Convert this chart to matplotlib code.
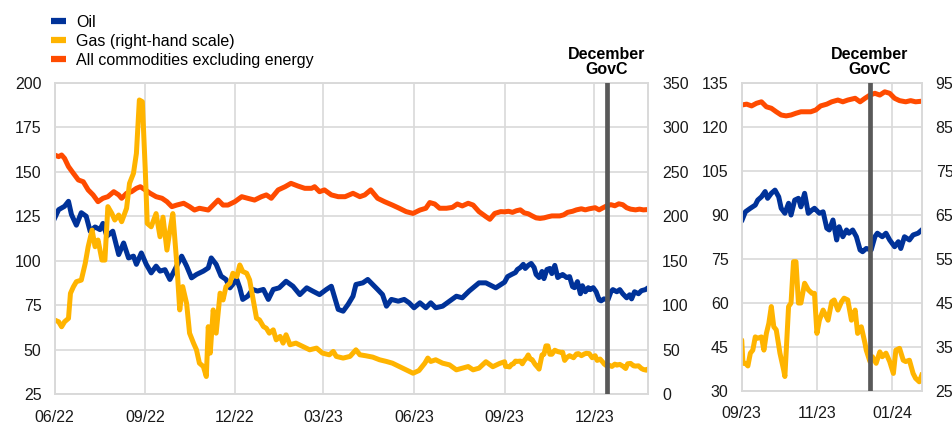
import matplotlib
matplotlib.use("Agg")
import matplotlib.pyplot as plt
import matplotlib.dates as mdates
import matplotlib.transforms as mtransforms
from matplotlib.lines import Line2D
import pandas as pd

plt.rcParams["font.family"] = ["Liberation Sans", "DejaVu Sans"]
plt.rcParams["font.size"] = 11.5

# ---- data (days counted from 1 June 2022) ----
start = pd.Timestamp("2022-06-01")
zoom_start = pd.Timestamp("2023-09-01")
end = pd.Timestamp("2024-01-25")
govc_date = pd.Timestamp("2023-12-14")

oil_day = [0, 4, 10, 14, 17, 22, 27, 32, 36, 41, 46, 49, 53, 59, 65, 70, 75, 80, 83, 88,
           93, 98, 103, 107, 112, 117, 122, 129, 134, 139, 144, 151, 156, 159, 164, 169, 174, 178, 185, 188,
           191, 196, 201, 206, 212, 217, 222, 228, 235, 242, 249, 256, 262, 269, 276, 281, 284, 288, 293, 298,
           303, 306, 313, 318, 323, 328, 333, 337, 342, 349, 355, 360, 365, 371, 377, 382, 387, 394, 401, 408,
           414, 421, 431, 438, 448,
           457, 460, 464, 468, 470, 473, 476, 478, 481, 484, 487, 489, 492, 495, 497, 500, 503, 505, 508, 511,
           514, 516, 520, 523, 526, 528, 531, 534, 536, 539, 542, 544, 547, 550, 553, 555, 558, 562, 565, 567,
           571, 574, 577, 581, 584, 586, 589, 593, 596, 600, 603]
oil_val = [124, 128.7, 130.6, 133.4, 126, 120, 127, 125, 116.6, 119, 117.5, 121, 113.8, 116.6, 103.5, 110, 101.6, 102.6, 98, 104.4,
           98, 93.2, 97, 94.2, 95, 89.5, 95, 102.6, 97, 90.4, 92.3, 94.2, 96, 101.6, 98, 91.4, 89.5, 84.8, 89.5, 84.8,
           78.3, 80.1, 83.9, 83, 83.9, 78.3, 83.9, 84.8, 88.5, 85.7, 81, 84.8, 83, 81, 83.9, 85.7, 80.1, 72.7, 71.7, 75.5,
           80.1, 86.7, 87.6, 89.5, 86.7, 83.9, 81, 74.5, 78.3, 77.3, 78.3, 76.4, 73.6, 76.4, 73.6, 76.4, 73.6, 74.5, 77.3, 80.1,
           79.2, 83, 87.6, 87.6, 84.8,
           88, 91.1, 92.3, 93.4, 95.1, 96.2, 98, 95.7, 97.4, 98.5, 96.2, 92.3, 90.6, 94, 90, 95.1, 95.7, 92.8, 97.4, 90.6,
           91.7, 92.3, 90.6, 91.1, 85.5, 84.9, 88.3, 81.5, 86, 82.6, 84.9, 83.8, 84.9, 82.6, 78.1, 77.5, 78.6, 78.1, 82.6, 83.8,
           82.6, 83.8, 81.5, 79.2, 80.9, 78.6, 82.6, 81.5, 83.2, 83.8, 84.9]

gas_day = [0, 4, 7, 10, 14, 16, 19, 22, 27, 31, 34, 38, 41, 44, 48, 51, 54, 58, 61, 65,
           68, 73, 76, 80, 83, 86, 89, 92, 94, 98, 103, 107, 110, 114, 117, 120, 124, 127, 130, 134,
           137, 141, 144, 147, 151, 154, 156, 158, 161, 164, 168, 171, 174, 178, 181, 185, 188, 191, 195, 198,
           201, 205, 208, 212, 215, 218, 222, 225, 229, 232, 235, 239, 245, 252, 259, 266, 272, 279, 283, 286,
           293, 300, 306, 310, 316, 323, 330, 337, 343, 350, 357, 364, 370, 376, 379, 382, 387, 394, 401, 408,
           414, 420, 425, 431, 438, 445, 452,
           457, 458, 460, 462, 464, 466, 468, 470, 473, 475, 477, 479, 481, 483, 485, 488, 491, 492, 493, 495,
           497, 499, 501, 503, 505, 508, 511, 514, 516, 518, 520, 523, 527, 530, 532, 535, 538, 540, 543, 546,
           549, 551, 554, 557, 558, 561, 563, 566, 569, 571, 574, 577, 580, 582, 585, 588, 590, 593, 596, 598,
           601, 603]
gas_val = [83.4, 81.5, 75.9, 81.5, 85.3, 113.4, 120.8, 126.5, 128.3, 147, 165.8, 184.5, 165.8, 173.3, 150.8, 150.8, 210.8, 203.3, 195.8, 201.4,
           193.9, 208.9, 237, 248.2, 270.7, 330.6, 328.7, 252, 192, 188.2, 203, 177, 199, 162, 184, 203, 147, 94.8, 121, 102,
           68.7, 57.5, 50, 35, 31.2, 20, 76, 46.3, 94.8, 68.7, 113.6, 106, 121, 124.8, 136, 132.2, 145.3, 138, 136, 128.5,
           109.8, 85.5, 83.6, 76.1, 74.2, 68.7, 72.4, 61.2, 65, 57.5, 66.9, 55.7, 57.5, 53.8, 50, 51.9, 46.3, 44.4, 48.2, 42.6,
           40.7, 42.6, 50, 44.4, 43.3, 41.8, 38.8, 36.9, 35, 31.2, 27.5, 23.7, 26.7, 35, 40.7, 36.9, 38.8, 35, 33.1, 27.5,
           29.4, 31.2, 27.5, 29.4, 36.6, 31, 34.7,
           36.6, 31.3, 31.3, 30.7, 33.6, 34.3, 37.3, 37, 37.3, 34.3, 38.1, 40.4, 44.2, 39.6, 38.9, 33.6, 29.8, 28.3, 33.6, 44.2,
           45, 54.4, 54.4, 45, 45, 49.5, 48, 47.2, 47.2, 38.1, 41.1, 43.4, 41.1, 45.3, 45.7, 43.4, 45.3, 46.1, 45.7, 41.1,
           43.4, 38.1, 39.6, 35.8, 34.3, 31.7, 32.8, 31.3, 33.9, 32.8, 33.6, 31.7, 29, 34.3, 34.7, 32, 31.7, 32, 29, 27.9,
           27.1, 28.6]

nonen_day = [0, 4, 7, 10, 14, 19, 24, 29, 34, 39, 44, 49, 54, 60, 65, 68, 73, 78, 83, 87,
             92, 97, 103, 109, 114, 119, 124, 131, 137, 142, 147, 156, 161, 166, 171, 176, 183, 190, 196, 203,
             210, 215, 220, 227, 234, 240, 247, 254, 261, 264, 269, 274, 281, 288, 295, 303, 310, 315, 321, 328,
             335, 343, 350, 357, 364, 371, 377, 381, 386, 391, 398, 404, 409, 414, 420, 425, 431, 438, 442, 447,
             453, 457, 461, 465, 469, 473, 477, 481, 485, 489, 493, 497, 501, 505, 509, 513, 517, 521, 526, 530,
             535, 539, 543, 549, 553, 557, 561, 565, 569, 573, 577, 581, 585, 590, 594, 598, 603]
nonen_val = [159.4, 158.5, 159.4, 157.5, 152.9, 149.1, 145.4, 144.4, 139.8, 137, 133.2, 135.1, 136, 138.8, 137, 135.1, 137.9, 138.8, 140.7, 141.6,
             139.8, 137.9, 136, 135.1, 133.2, 130.4, 131.3, 132.3, 130.4, 128.5, 129.5, 128.5, 131.3, 134.1, 131.3, 131.3, 133.2, 136, 135.1, 134.1,
             136, 137, 135.1, 139.8, 141.6, 143.5, 142, 140.7, 140.7, 141.6, 138.8, 139.8, 137, 136, 136, 137.9, 136, 137, 139.8, 135.1,
             133.2, 131.3, 129.5, 127.6, 126.6, 128.5, 129.5, 132.7, 131.9, 129.5, 129.5, 130, 131.9, 130.8, 132.3, 131.3, 127.6, 124.8, 123.3, 126.6,
             127.6, 127.5, 127.8, 127.2, 128.1, 128.6, 126.9, 126.4, 125.2, 124.1, 123.8, 124.1, 124.7, 125.2, 125.2, 125.2, 125.8, 127.2, 127.8, 128.6,
             129.2, 128.6, 129.2, 129.8, 128.6, 129.8, 130.9, 131.5, 130.9, 132, 131.5, 129.8, 129, 128.6, 129, 128.6, 128.8]

labels = ["Oil", "Gas (right-hand scale)", "All commodities excluding energy"]
colors = {"oil": "#003299", "gas": "#ffb400", "nonen": "#ff4b00"}
grid_col = "#d9d9d9"


def to_dates(days):
    return start + pd.to_timedelta(days, unit="D")


oil_x = to_dates(oil_day)
gas_x = to_dates(gas_day)
nonen_x = to_dates(nonen_day)

fig = plt.figure(figsize=(9.53, 4.28), dpi=100)
ax1 = fig.add_axes([0.0574, 0.0787, 0.6229, 0.728])
ax1r = ax1.twinx()
ax2 = fig.add_axes([0.7783, 0.0864, 0.1889, 0.7196])
ax2r = ax2.twinx()

panels = [
    (ax1, ax1r, (start, end), ["2022-06-01", "2022-09-01", "2022-12-01", "2023-03-01",
                               "2023-06-01", "2023-09-01", "2023-12-01"],
     (25, 200), range(25, 201, 25), (0, 350), range(0, 351, 50)),
    (ax2, ax2r, (zoom_start, end), ["2023-09-01", "2023-11-01", "2024-01-01"],
     (30, 135), range(30, 136, 15), (25, 95), range(25, 96, 10)),
]

for ax, axr, xlim, xticks, ylim, yticks, rlim, rticks in panels:
    ax.plot(oil_x, oil_val, color=colors["oil"], lw=3.6, solid_joinstyle="round")
    ax.plot(nonen_x, nonen_val, color=colors["nonen"], lw=3.6, solid_joinstyle="round")
    axr.plot(gas_x, gas_val, color=colors["gas"], lw=3.6, solid_joinstyle="round")
    axr.axvline(govc_date, color="#595959", lw=3.4, zorder=10)

    ax.set_xlim(*xlim)
    ax.set_xticks(pd.to_datetime(xticks))
    ax.xaxis.set_major_formatter(mdates.DateFormatter("%m/%y"))
    ax.set_ylim(*ylim)
    ax.set_yticks(list(yticks))
    axr.set_ylim(*rlim)
    axr.set_yticks(list(rticks))

    ax.grid(True, color=grid_col, lw=1.2)
    ax.set_axisbelow(True)
    for a in (ax, axr):
        for s in a.spines.values():
            s.set_color(grid_col)
            s.set_linewidth(1.2)
    ax.tick_params(axis="y", length=0, pad=9.5, labelcolor="#1a1a1a")
    ax.tick_params(axis="x", length=0, pad=11, labelcolor="#1a1a1a")
    axr.tick_params(axis="y", length=0, pad=10, labelcolor="#1a1a1a")

    trans = mtransforms.blended_transform_factory(ax.transData, ax.transAxes)
    ax.text(govc_date, 1.02, "December\nGovC", transform=trans, ha="center", va="bottom",
            fontweight="bold", linespacing=1.0)

handles = [Line2D([], [], color=colors[k], lw=4.5, solid_capstyle="butt") for k in ("oil", "gas", "nonen")]
fig.legend(handles, labels, loc="upper left", bbox_to_anchor=(0.053, 0.966), frameon=False,
           handlelength=1.0, handletextpad=0.6, labelspacing=0.25, borderpad=0, borderaxespad=0)

fig.savefig("out.png", dpi=100)
